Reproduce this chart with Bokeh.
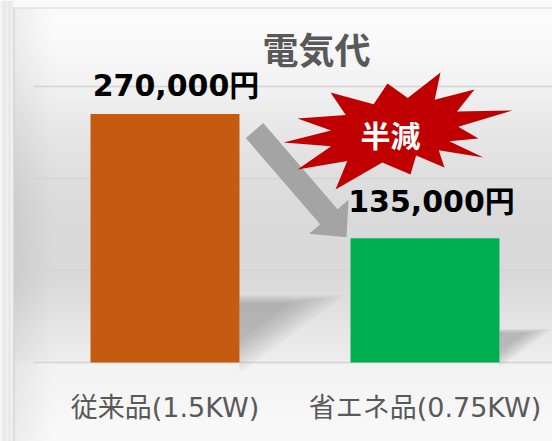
import numpy as np
from bokeh.plotting import figure
from bokeh.models import Range1d, ColumnDataSource
from bokeh.core.properties import value
from bokeh.embed import file_html
from bokeh.resources import INLINE

# ---------------- data ----------------
categories = ["従来品(1.5KW)", "省エネ品(0.75KW)"]
costs = [270000, 135000]
cost_labels = ["270,000円", "135,000円"]
bar_colors = ["#c55a11", "#00b050"]
grid_values = [0, 100000, 200000, 300000]
title_text = "電気代"
badge_text = "半減"

# ---------------- layout (pixels) ----------------
W, H = 552, 441
PLOT_LEFT_PX = 34.5      # left edge of first category slot
CAT_W = 260.0            # pixel width of one category slot
BASE_PX = 362.0          # baseline (value 0)
PX_PER_UNIT = 276.0 / 300000.0
BAR_W = 149.0 / CAT_W
LABEL_DX = [11, 6.5]     # value-label pixel offsets
LABEL_DY = [-29, -37]

X0 = -PLOT_LEFT_PX / CAT_W
X1 = (W - PLOT_LEFT_PX) / CAT_W
Y1 = BASE_PX / PX_PER_UNIT
Y0 = -(H - BASE_PX) / PX_PER_UNIT


def sx(x):
    return (x - X0) / (X1 - X0) * W


def sy(y):
    return (Y1 - y) / (Y1 - Y0) * H


def ix(px):
    return X0 + px / W * (X1 - X0)


def iy(py):
    return Y1 - py / H * (Y1 - Y0)


p = figure(width=W, height=H, x_range=Range1d(X0, X1), y_range=Range1d(Y0, Y1),
           x_axis_type=None, y_axis_type=None, toolbar_location=None,
           output_backend="svg", min_border=0, outline_line_color=None)
p.background_fill_color = "#ffffff"
p.border_fill_color = "#ffffff"

# ---------------- background gradient ----------------
ys = np.arange(H) + 0.5
yp = [0, 7, 40, 86, 120, 160, 200, 240, 280, 300, 330, 358, 364, 400, 441]
gp = [250, 252, 250, 242, 234, 226, 220, 218, 219, 223, 231, 237, 243, 246, 250]
prof = np.interp(ys, yp, gp)
g = np.repeat(prof[:, None], W, axis=1)
xs = np.arange(W)
dark = np.clip(1 - (xs - 13) / 40.0, 0, 1) * 13
g = g - dark[None, :] * (ys[:, None] > 7)
# outside frame (left strip / top strip)
stripe = 236 + 5 * np.sin(xs[:13] * 1.3)
g[:, :13] = stripe[None, :]
g[:7, 13:] = 250
# frame border
g[7, 13:] = 214
g[7:, 13] = 205
g = np.clip(g, 0, 255).astype(np.uint8)
img = np.empty((H, W), dtype=np.uint32)
view = img.view(dtype=np.uint8).reshape((H, W, 4))
view[..., 0] = g
view[..., 1] = g
view[..., 2] = g
view[..., 3] = 255
p.image_rgba(image=[np.flipud(img)], x=X0, y=Y0, dw=X1 - X0, dh=Y1 - Y0)

# ---------------- gridlines ----------------
p.segment(x0=[ix(33)] * len(grid_values), y0=grid_values,
          x1=[X1] * len(grid_values), y1=grid_values,
          line_color="#d4d4d4", line_width=1.5)

# ---------------- bar shadows ----------------
xc = [i + 0.5 for i in range(len(categories))]
sh_xs, sh_ys = [], []
for i, v in enumerate(costs):
    xr = sx(xc[i] + BAR_W / 2)
    base = sy(0)
    h = base - sy(v)
    dy, dx = 0.26 * h, 0.35 * h
    ax, ay = xr, base - dy * 0.8
    tri = [(xr, base), (xr + dx, base - dy), (xr, base - dy)]
    for f in [1.2, 1.1, 1.0, 0.9, 0.8, 0.7, 0.6]:
        pts = [(ax + (px - ax) * f, ay + (py - ay) * f) for px, py in tri]
        sh_xs.append([ix(a) for a, b in pts])
        sh_ys.append([iy(b) for a, b in pts])
p.patches(sh_xs, sh_ys, fill_color="#606060", fill_alpha=0.055, line_color=None)

# ---------------- bars ----------------
src = ColumnDataSource(dict(x=xc, top=costs, color=bar_colors, cat=categories))
p.vbar(x="x", top="top", bottom=0, width=BAR_W, fill_color="color",
       line_color=None, source=src)

# ---------------- arrow ----------------
S = np.array([sx(xc[0] + BAR_W / 2) + 15, sy(costs[0]) + 16.5])
T = np.array([sx(xc[1] - BAR_W / 2) - 4, sy(costs[1]) - 1])
d = (T - S) / np.linalg.norm(T - S)
n = np.array([d[1], -d[0]])
hw, hhw, hl = 11.5, 26.0, 27.0
Hc = T - d * hl
apts = [S + n * hw, Hc + n * hw, Hc + n * hhw, T, Hc - n * hhw, Hc - n * hw, S - n * hw]
p.patch([ix(a[0]) for a in apts], [iy(a[1]) for a in apts],
        fill_color="#a4a4a4", line_color=None)

# ---------------- starburst ----------------
C = np.array([397.0, 130.0])
spikes = [(-114, 12), (-100, -12), (-67, -38), (-10, -47), (43, -58), (77, -41),
          (115, -20), (81, 8), (86, 27), (47, 37), (13, 44), (-62, 59), (-100, 39)]
bpts = []
for k in range(len(spikes)):
    a = np.array(spikes[k], dtype=float)
    b = np.array(spikes[(k + 1) % len(spikes)], dtype=float)
    bpts.append(C + a)
    bpts.append(C + (a + b) / 2 * 0.62)
p.patch([ix(q[0]) for q in bpts], [iy(q[1]) for q in bpts],
        fill_color="#c00000", line_color=None)

# ---------------- texts ----------------
for i in range(len(costs)):
    p.text(x=[xc[i]], y=[costs[i]], text=[cost_labels[i]],
           x_offset=LABEL_DX[i], y_offset=LABEL_DY[i],
           text_align="center", text_baseline="alphabetic",
           text_font=value("DejaVu Sans, Noto Sans CJK JP"), text_font_style="bold",
           text_font_size="30px", text_color="#000000")

p.text(x="x", y=0, text="cat", y_offset=45, source=src,
       text_align="center", text_baseline="middle",
       text_font=value("DejaVu Sans, Noto Sans CJK JP"),
       text_font_size="27px", text_color="#595959")

p.text(x=[ix(316)], y=[iy(47)], text=[title_text], text_align="center",
       text_baseline="middle", text_font=value("Noto Sans CJK JP"),
       text_font_style="bold", text_font_size="36px", text_color="#595959")

p.text(x=[ix(390)], y=[iy(133)], text=[badge_text], text_align="center",
       text_baseline="middle", text_font=value("Noto Sans CJK JP"),
       text_font_style="bold", text_font_size="30px", text_color="#ffffff")

open("out.html", "w").write(file_html(p, INLINE))
